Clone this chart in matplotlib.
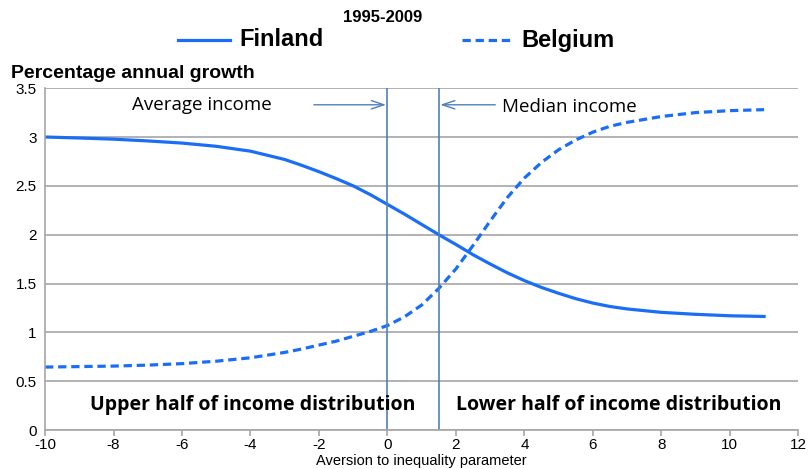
import matplotlib
matplotlib.use("Agg")
import matplotlib.pyplot as plt
from matplotlib.lines import Line2D

# aversion-to-inequality parameter and growth rates (% per year), 1995-2009
aversion = [-10, -9, -8, -7, -6, -5, -4, -3, -2.5, -2, -1.5, -1, -0.5, 0, 0.5, 1, 1.5,
            2, 2.5, 3, 3.5, 4, 4.5, 5, 5.5, 6, 6.5, 7, 8, 9, 10, 11]
finland = [3.00, 2.99, 2.978, 2.96, 2.938, 2.905, 2.855, 2.77, 2.71, 2.645, 2.575, 2.50, 2.41,
           2.31, 2.21, 2.105, 2.00, 1.90, 1.795, 1.70, 1.61, 1.53, 1.46, 1.40, 1.345, 1.30,
           1.265, 1.24, 1.205, 1.185, 1.17, 1.163]
belgium = [0.645, 0.65, 0.655, 0.665, 0.68, 0.705, 0.74, 0.795, 0.83, 0.87, 0.91, 0.96, 1.01,
           1.07, 1.16, 1.28, 1.45, 1.65, 1.89, 2.14, 2.38, 2.58, 2.74, 2.87, 2.97, 3.05,
           3.11, 3.15, 3.21, 3.25, 3.27, 3.28]

avg_income = 0
median_income = 1.5

blue = '#1a6ef5'
ref_col = '#4f81bd'
grid_col = '#a6a6a6'
dash = (2.6, 1.5)

plt.rcParams['font.family'] = ['Liberation Sans', 'DejaVu Sans']
plt.rcParams['axes.unicode_minus'] = False

fig = plt.figure(figsize=(8.1, 4.69), dpi=100)
ax = fig.add_axes([0.0556, 0.083, 0.930, 0.729])

ax.plot(aversion, finland, color=blue, lw=2.3)
ax.plot(aversion, belgium, color=blue, lw=2.3, dashes=dash)

ax.axvline(avg_income, color=ref_col, lw=1.2)
ax.axvline(median_income, color=ref_col, lw=1.2)

# arrows pointing at the two reference lines
arrow = dict(arrowstyle='->,head_length=0.9,head_width=0.3', color=ref_col, lw=1,
             shrinkA=0, shrinkB=1)
ax.annotate('', xy=(avg_income, 3.33), xytext=(-2.15, 3.33), arrowprops=arrow)
ax.annotate('', xy=(median_income, 3.33), xytext=(3.15, 3.33), arrowprops=arrow)
ax.text(-7.45, 3.33, 'Average income', fontsize=13.5, va='center', ha='left',
        family='Open Sans')
ax.text(3.35, 3.31, 'Median income', fontsize=13.5, va='center', ha='left',
        family='Open Sans')

ax.text(-3.95, 0.255, 'Upper half of income distribution', fontsize=14, fontweight='bold',
        ha='center', va='center', family='Open Sans')
ax.text(6.75, 0.255, 'Lower half of income distribution', fontsize=14, fontweight='bold',
        ha='center', va='center', family='Open Sans')

ax.set_xlim(-10, 12)
ax.set_ylim(0, 3.5)
ax.set_xticks(range(-10, 13, 2))
ax.set_yticks([0, 0.5, 1, 1.5, 2, 2.5, 3, 3.5])
ax.set_yticklabels(['0', '0.5', '1', '1.5', '2', '2.5', '3', '3.5'])
ax.yaxis.grid(True, color=grid_col, lw=1.2)
ax.set_axisbelow(True)
ax.tick_params(axis='y', length=0, labelsize=11, pad=6)
ax.tick_params(axis='x', length=4, color=grid_col, width=1.2, labelsize=11, pad=2)
for side in ['top', 'right']:
    ax.spines[side].set_visible(False)
for side in ['left', 'bottom']:
    ax.spines[side].set_color(grid_col)
    ax.spines[side].set_linewidth(1.2)

ax.set_xlabel('Aversion to inequality parameter', fontsize=10.5, labelpad=1)
fig.text(0.014, 1 - 73 / 469, 'Percentage annual growth', fontsize=14, fontweight='bold',
         va='center')

# legend drawn in figure coordinates
fig.text(383 / 810, 1 - 18 / 469, '1995-2009', fontsize=12, fontweight='bold',
         ha='center', va='center')
leg_y = 1 - 40 / 469
fig.add_artist(Line2D([178 / 810, 230 / 810], [leg_y, leg_y], color=blue, lw=2.3,
                      transform=fig.transFigure))
fig.add_artist(Line2D([462 / 810, 512 / 810], [leg_y, leg_y], color=blue, lw=2.3,
                      dashes=dash, transform=fig.transFigure))
fig.text(239 / 810, leg_y, 'Finland', fontsize=17, fontweight='bold', va='center')
fig.text(521 / 810, leg_y, 'Belgium', fontsize=17, fontweight='bold', va='center')

fig.savefig('out.png', dpi=100)
